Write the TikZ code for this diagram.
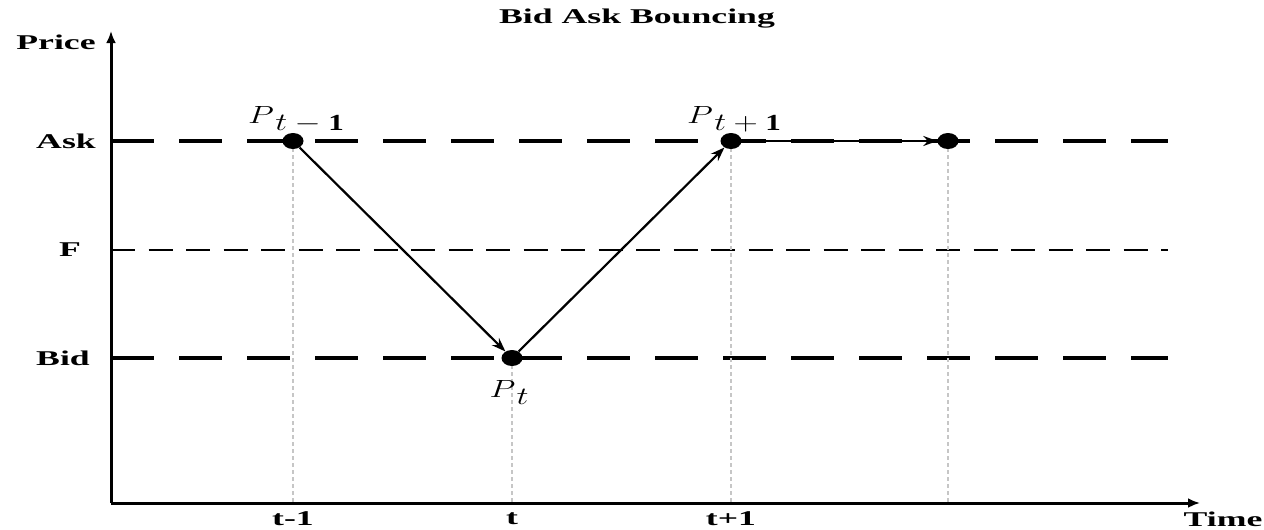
\documentclass[tikz,border=0pt]{standalone}
\usepackage{fontspec}
\setmainfont{Liberation Serif}
\usetikzlibrary{arrows.meta,shapes.geometric}
\newcommand{\wlab}[1]{\scalebox{1.7}[1]{\fontsize{21}{21}\selectfont\bfseries #1}}
\newcommand{\plab}[2]{\scalebox{1.35}[1]{\fontsize{23}{23}\selectfont$P$\hspace{1pt}\raisebox{-7pt}{$#1\mathbf{#2}$}}}
\tikzset{
  axis/.style={line width=3pt,-{Latex[length=12pt,width=10pt]}},
  heavydash/.style={line width=3.2pt,dash pattern=on 43pt off 25pt},
  fdash/.style={line width=2pt,dash pattern=on 24pt off 13.5pt},
  guide/.style={line width=2pt,gray!45,dash pattern=on 4pt off 3pt},
  dot/.style={ellipse,fill=black,minimum width=21pt,minimum height=16pt,inner sep=0pt},
  arr/.style={line width=2.2pt,-{Stealth[length=14pt,width=10pt]}},
  lab/.style={inner sep=0pt,anchor=center}
}
\begin{document}
\begin{tikzpicture}[x=1pt,y=-1pt]
\useasboundingbox (0,0) rectangle (1264,530);
% axes
\coordinate (O) at (111,503);
\coordinate (ytop) at (111,31);
\coordinate (xend) at (1200,503);
\draw[axis] (O) -- (ytop);
\draw[axis] (O) -- (xend);
% level lines
\coordinate (askL) at (111,141); \coordinate (askR) at (1168,141);
\coordinate (fL) at (111,250);   \coordinate (fR) at (1168,250);
\coordinate (bidL) at (111,358); \coordinate (bidR) at (1168,358);
\draw[heavydash] (askL) -- (askR);
\draw[fdash] (fL) -- (fR);
\draw[heavydash] (bidL) -- (bidR);
% points
\coordinate (c1) at (293,141);
\coordinate (c2) at (512,358);
\coordinate (c3) at (731,141);
\coordinate (c4) at (948,141);
\draw[guide] (c1) -- (c1 |- O);
\draw[guide] (c2) -- (c2 |- O);
\draw[guide] (c3) -- (c3 |- O);
\draw[guide] (c4) -- (c4 |- O);
\node[dot] (p1) at (c1) {};
\node[dot] (p2) at (c2) {};
\node[dot] (p3) at (c3) {};
\node[dot] (p4) at (c4) {};
\draw[arr] (p1) -- (p2);
\draw[arr] (p2) -- (p3);
\draw[arr] (p3) -- (p4);
% labels
\node[lab] (title) at (637,19) {\wlab{Bid Ask Bouncing}};
\node[lab] (price) at (56,42) {\wlab{Price}};
\node[lab] (ask) at (66,141) {\wlab{Ask}};
\node[lab] (f) at (70,250) {\wlab{F}};
\node[lab] (bid) at (63,358) {\wlab{Bid}};
\node[lab] (time) at (1223,519) {\wlab{Time}};
\node[lab] (t1) at (293,519) {\wlab{t-1}};
\node[lab] (t2) at (512,519) {\wlab{t}};
\node[lab] (t3) at (731,519) {\wlab{t+1}};
\node[lab] (lp1) at (296,120) {\plab{t-}{1}};
\node[lab] (lp3) at (734,119) {\plab{t+}{1}};
\node[lab] (lp2) at (509,392) {\plab{t}{}};
\end{tikzpicture}
\end{document}
